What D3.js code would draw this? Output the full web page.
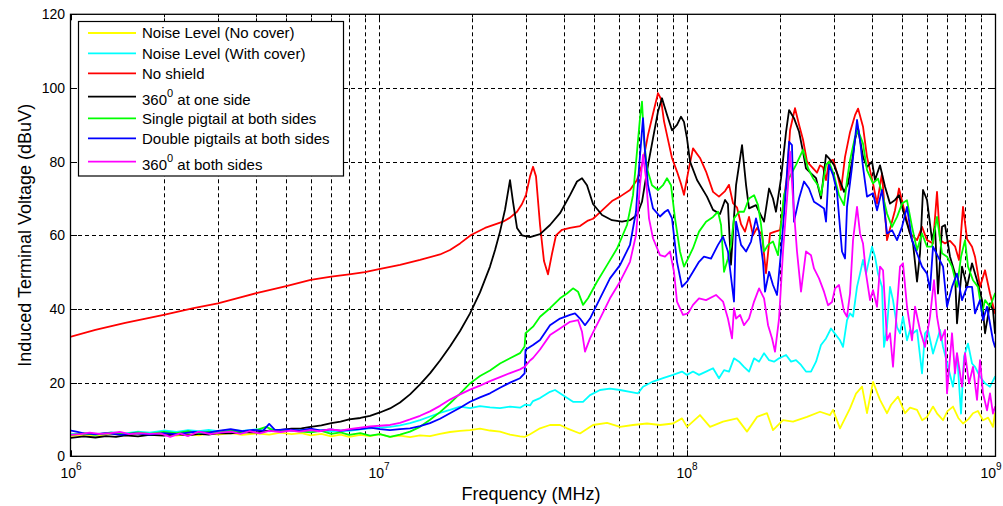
<!DOCTYPE html>
<html><head><meta charset="utf-8">
<script src="https://cdn.jsdelivr.net/npm/d3@7"></script>
<style>body{margin:0;background:#fff;} svg{display:block;font-family:"Liberation Sans",Arial,Helvetica,sans-serif;}</style>
</head><body><svg id="chart" width="1003" height="506"></svg>
<script>
// ---------------- DATA ----------------
const seriesNames = ["Noise Level (No cover)", "Noise Level (With cover)", "No shield", "360^0 at one side",
  "Single pigtail at both sides", "Double pigtails at both sides", "360^0 at both sides"];
const seriesColors = ["#ffff00", "#00ffff", "#ff0000", "#000000", "#00ff00", "#0000ff", "#ff00ff"];
const xTickExponents = [6, 7, 8, 9];
const yTickValues = [0, 20, 40, 60, 80, 100, 120];

// [frequency (Hz), induced voltage (dBuV)]
const noiseNoCover = [[1e6,5.5],[1.1e6,5.9],[1.2e6,5.6],[1.35e6,6.1],[1.5e6,5.7],[1.65e6,6.2],[1.8e6,5.8],[2e6,6.1],[2.2e6,5.6],[2.4e6,6.0],[2.6e6,5.7],[2.8e6,6.2],[3e6,5.9],[3.3e6,6.3],[3.6e6,5.8],[4e6,6.2],[4.4e6,5.9],[4.8e6,6.4],[5.2e6,6.0],[5.6e6,6.3],[6e6,5.7],[6.5e6,6.1],[7e6,5.4],[7.5e6,5.9],[8e6,5.3],[8.7e6,5.8],[9.35e6,5.5],[1.007e7,6.0],[1.086e7,5.3],[1.17e7,5.6],[1.261e7,5.2],[1.359e7,5.7],[1.464e7,5.5],[1.578e7,6.1],[1.7e7,6.6],[1.833e7,6.9],[1.975e7,7.1],[2.128e7,7.5],[2.293e7,7.0],[2.471e7,6.7],[2.663e7,5.9],[2.87e7,5.4],[2.979e7,5.3],[3.093e7,6.0],[3.333e7,7.6],[3.591e7,8.5],[3.87e7,8.5],[4.077e7,7.6],[4.494e7,6.2],[4.953e7,8.5],[5.5e7,9.1],[6.06e7,8.0],[6.679e7,8.5],[7.415e7,8.9],[8.172e7,8.5],[9.007e7,8.9],[9.633e7,10.3],[1.0e8,8.0],[1.102e8,11.2],[1.188e8,8.0],[1.309e8,9.4],[1.454e8,10.3],[1.566e8,6.7],[1.688e8,10.7],[1.819e8,11.7],[1.902e8,7.1],[2.05e8,9.8],[2.209e8,9.4],[2.453e8,10.7],[2.703e8,12.1],[2.913e8,11.2],[2.979e8,12.6],[3.139e8,7.6],[3.383e8,13],[3.538e8,17],[3.701e8,18.9],[3.841e8,11.7],[4.017e8,20.2],[4.233e8,15.3],[4.461e8,11.7],[4.6e8,14.0],[4.843e8,16.2],[5.103e8,11.7],[5.3e8,13.2],[5.583e8,12.6],[5.8e8,9.8],[6.015e8,10.7],[6.292e8,13.5],[6.5e8,11.5],[6.781e8,9.8],[7.0e8,12.2],[7.305e8,13.5],[7.6e8,10.4],[7.873e8,8.9],[8.2e8,10.1],[8.484e8,11.7],[8.8e8,12.3],[9.143e8,9.8],[9.5e8,10.5],[9.851e8,8.0],[1e9,11.7]];

const noiseWithCover = [[1e6,6.0],[1.1e6,6.3],[1.2e6,5.9],[1.35e6,6.5],[1.5e6,6.2],[1.65e6,6.7],[1.8e6,6.4],[2e6,7.0],[2.2e6,6.6],[2.4e6,7.1],[2.6e6,6.8],[2.8e6,7.2],[3e6,6.8],[3.3e6,7.1],[3.6e6,6.9],[4e6,7.3],[4.4e6,6.8],[4.8e6,7.2],[5.2e6,6.9],[5.6e6,7.2],[6e6,6.8],[6.5e6,7.1],[7e6,6.7],[7.5e6,7.0],[8e6,6.9],[8.7e6,7.3],[9.35e6,7.6],[1.007e7,7.8],[1.086e7,8.0],[1.17e7,8.4],[1.261e7,9.0],[1.359e7,9.8],[1.464e7,10.8],[1.578e7,11.8],[1.7e7,12.6],[1.833e7,13.5],[1.975e7,13.1],[2.128e7,13.6],[2.293e7,13.3],[2.471e7,13.1],[2.663e7,13.5],[2.87e7,13.2],[2.979e7,14.0],[3.093e7,13.8],[3.163e7,15.0],[3.333e7,15.8],[3.591e7,17.5],[3.728e7,18],[3.958e7,16.6],[4.265e7,14.8],[4.596e7,14.8],[4.843e7,16.6],[5.219e7,18],[5.623e7,18.4],[6.06e7,18],[6.53e7,17.5],[6.932e7,17.1],[7.197e7,18.9],[7.755e7,20.3],[8.358e7,21.2],[9.007e7,22.1],[9.633e7,23],[1.0e8,22.1],[1.046e8,23],[1.094e8,22.1],[1.153e8,23],[1.215e8,23.9],[1.27e8,21.2],[1.319e8,23.4],[1.369e8,23],[1.421e8,26.6],[1.476e8,25.7],[1.531e8,24.3],[1.59e8,23],[1.651e8,26.6],[1.714e8,25.7],[1.779e8,28],[1.847e8,26.1],[1.917e8,25.7],[1.99e8,26.6],[2.097e8,27.5],[2.177e8,25.7],[2.259e8,26.1],[2.345e8,24.8],[2.434e8,23],[2.527e8,23],[2.624e8,25.7],[2.723e8,30.2],[2.827e8,32],[2.935e8,34.7],[3.047e8,32.9],[3.139e8,31.5],[3.21e8,29.7],[3.308e8,37],[3.383e8,38.8],[3.46e8,37.9],[3.565e8,46],[3.646e8,49.6],[3.728e8,53.3],[3.813e8,49.6],[3.988e8,56.9],[4.078e8,54.2],[4.17e8,49.6],[4.297e8,46],[4.362e8,29.7],[4.461e8,35.1],[4.562e8,46],[4.665e8,42.4],[4.808e8,35.1],[4.916e8,33.4],[5.027e8,37.9],[5.18e8,31.5],[5.298e8,34.3],[5.418e8,33.4],[5.583e8,34.3],[5.795e8,22.5],[5.926e8,33.4],[6.06e8,34.3],[6.292e8,27.9],[6.482e8,31.5],[6.63e8,34.3],[6.781e8,29.7],[7.038e8,24.3],[7.305e8,18.9],[7.528e8,27.9],[7.757e8,11.6],[7.932e8,27],[8.173e8,30.6],[8.422e8,25.2],[8.612e8,24.3],[8.94e8,21.6],[9.281e8,19.8],[9.634e8,18.9],[1e9,21.6]];

const noShield = [[1e6,32.5],[1.2e6,34.3],[1.5e6,36.2],[2e6,38.4],[2.5e6,40.2],[3e6,41.5],[3.5e6,43.0],[4e6,44.3],[5e6,46.2],[6e6,47.9],[7e6,48.8],[8e6,49.4],[9e6,50.0],[1e7,50.8],[1.17e7,52.0],[1.359e7,53.3],[1.578e7,54.8],[1.7e7,56],[1.833e7,57.8],[1.99e7,60.1],[2.209e7,62.0],[2.527e7,63.7],[2.663e7,64.8],[2.806e7,66.4],[2.913e7,68.5],[3.001e7,71.0],[3.093e7,76.0],[3.163e7,78.6],[3.234e7,76],[3.333e7,62.8],[3.433e7,53],[3.537e7,49.4],[3.645e7,55],[3.756e7,60],[3.928e7,61.5],[4.17e7,62.0],[4.494e7,62.5],[4.771e7,64],[4.953e7,64.5],[5.103e7,65.5],[5.418e7,67.5],[5.708e7,69.3],[6.06e7,70.5],[6.53e7,72.3],[6.881e7,75],[7.197e7,80],[7.47e7,87.2],[7.755e7,93],[8.05e7,98.6],[8.233e7,97],[8.419e7,91],[8.611e7,87.2],[8.939e7,81],[9.28e7,77.3],[9.561e7,74],[9.777e7,71],[1.008e8,77],[1.046e8,83.6],[1.102e8,81],[1.153e8,77.3],[1.215e8,71.8],[1.27e8,70.5],[1.329e8,72],[1.369e8,73.7],[1.411e8,68.7],[1.454e8,67.5],[1.498e8,63],[1.543e8,61],[1.59e8,65],[1.638e8,60],[1.688e8,62],[1.753e8,60],[1.805e8,49.7],[1.861e8,60.5],[1.931e8,61],[2.005e8,61.4],[2.065e8,70],[2.112e8,76],[2.161e8,88.6],[2.242e8,94.5],[2.311e8,90],[2.38e8,86],[2.453e8,80],[2.546e8,78.5],[2.643e8,77],[2.703e8,79],[2.764e8,78.5],[2.827e8,75],[2.891e8,80],[2.979e8,80.5],[3.07e8,77],[3.163e8,72.3],[3.259e8,81.3],[3.383e8,88],[3.512e8,92.6],[3.592e8,94.4],[3.728e8,89.5],[3.841e8,81.3],[4.017e8,74.1],[4.14e8,68.6],[4.297e8,76.8],[4.461e8,58.7],[4.736e8,66.8],[4.879e8,72.7],[5.103e8,65.9],[5.298e8,60.5],[5.583e8,58.7],[5.795e8,62.3],[6.015e8,58.7],[6.292e8,57.8],[6.482e8,71.8],[6.63e8,58.7],[6.882e8,57.8],[7.144e8,58.5],[7.416e8,57],[7.641e8,53.3],[7.873e8,67.7],[8.113e8,59],[8.422e8,56.9],[8.612e8,54.2],[8.94e8,46],[9.281e8,50.5],[9.634e8,44.2],[1e9,38.8]];

const oneSide360 = [[1e6,5.0],[1.1e6,5.4],[1.2e6,5.1],[1.3e6,5.5],[1.4e6,5.3],[1.5e6,5.7],[1.65e6,5.4],[1.8e6,5.8],[2e6,5.6],[2.2e6,6.0],[2.4e6,5.7],[2.6e6,6.1],[2.8e6,5.9],[3e6,6.3],[3.3e6,6.2],[3.6e6,6.6],[4e6,6.5],[4.4e6,7.0],[4.8e6,7.2],[5.2e6,7.5],[5.6e6,7.6],[6e6,8.0],[6.5e6,8.4],[7e6,9.0],[7.5e6,9.4],[8e6,10.0],[8.7e6,10.4],[9.35e6,11.0],[1.007e7,11.9],[1.086e7,13.0],[1.17e7,14.6],[1.261e7,16.8],[1.359e7,19.5],[1.464e7,22.5],[1.578e7,26.0],[1.7e7,29.8],[1.833e7,34.0],[1.975e7,38.8],[2.128e7,44.5],[2.293e7,51.5],[2.381e7,56],[2.471e7,61.0],[2.566e7,67.0],[2.663e7,75.0],[2.724e7,69],[2.806e7,62.0],[2.913e7,60.0],[3.093e7,59.5],[3.333e7,60.3],[3.591e7,62.8],[3.87e7,66.0],[4.17e7,70.9],[4.394e7,74.6],[4.562e7,75.5],[4.735e7,73.6],[4.953e7,68.5],[5.298e7,65.5],[5.708e7,64.1],[6.152e7,63.7],[6.53e7,64.1],[6.881e7,65.5],[7.143e7,69.1],[7.47e7,79],[7.755e7,86.3],[8.05e7,93.6],[8.295e7,97.2],[8.611e7,92.7],[8.939e7,88.5],[9.28e7,90],[9.561e7,92.2],[9.777e7,90.8],[1.0e8,86.3],[1.023e8,80],[1.078e8,75],[1.161e8,70.5],[1.215e8,66.9],[1.28e8,65.8],[1.329e8,69.6],[1.358e8,68.5],[1.389e8,52],[1.443e8,73.6],[1.509e8,84.5],[1.555e8,73.6],[1.59e8,67.3],[1.675e8,68.2],[1.714e8,66.4],[1.779e8,63.7],[1.847e8,72.7],[1.902e8,70],[1.945e8,66.4],[2.02e8,75.5],[2.097e8,88.1],[2.145e8,94.0],[2.225e8,91.8],[2.311e8,88.1],[2.38e8,82.7],[2.434e8,78.2],[2.527e8,76.8],[2.624e8,75.5],[2.723e8,70],[2.827e8,81.8],[2.891e8,80.9],[3.001e8,79.1],[3.115e8,75.5],[3.235e8,71.8],[3.333e8,74],[3.434e8,80],[3.512e8,86],[3.592e8,89],[3.728e8,81.3],[3.841e8,78.6],[3.988e8,80],[4.078e8,75],[4.233e8,79],[4.395e8,73.2],[4.562e8,68.6],[4.736e8,69.6],[4.879e8,70.9],[5.027e8,66.8],[5.219e8,62.3],[5.418e8,57.8],[5.583e8,47.4],[5.709e8,55.1],[5.838e8,72.3],[6.015e8,69.6],[6.245e8,58.7],[6.386e8,62.3],[6.531e8,44.2],[6.73e8,62.3],[6.882e8,62.8],[7.144e8,54.2],[7.416e8,49.6],[7.527e8,36.1],[7.815e8,51.5],[8.113e8,46],[8.422e8,52.4],[8.742e8,47.8],[9.075e8,42.4],[9.281e8,33.4],[9.634e8,41.5],[9.851e8,39.7],[1e9,33.4]];

const singlePigtail = [[1e6,5.8],[1.1e6,6.2],[1.2e6,5.9],[1.35e6,6.4],[1.5e6,6.0],[1.65e6,6.5],[1.8e6,6.1],[2e6,6.6],[2.2e6,6.3],[2.4e6,6.8],[2.6e6,6.2],[2.8e6,6.7],[3e6,6.4],[3.3e6,7.0],[3.6e6,6.6],[4e6,7.1],[4.3e6,8.0],[4.6e6,6.9],[5e6,7.2],[5.5e6,6.8],[6e6,6.5],[6.5e6,6.9],[7e6,6.1],[7.5e6,6.5],[8e6,5.8],[8.7e6,6.3],[9.35e6,5.6],[1.007e7,6.0],[1.086e7,5.3],[1.17e7,5.9],[1.261e7,6.7],[1.359e7,8.0],[1.464e7,9.9],[1.578e7,12.0],[1.7e7,14.4],[1.833e7,17.0],[1.975e7,19.8],[2.128e7,21.8],[2.293e7,23.3],[2.471e7,25.2],[2.663e7,26.6],[2.87e7,28.0],[2.97e7,29.8],[2.99e7,33.4],[3.163e7,35.2],[3.333e7,37.9],[3.591e7,40.2],[3.87e7,42.9],[4.077e7,44.2],[4.265e7,45.6],[4.428e7,44.7],[4.596e7,41.1],[4.771e7,42.9],[5.103e7,47.4],[5.5e7,51.9],[5.926e7,56.4],[6.386e7,62.8],[6.679e7,70.9],[6.881e7,82.7],[7.037e7,91.8],[7.143e7,96.3],[7.252e7,86],[7.415e7,78.2],[7.697e7,73.6],[8.05e7,72.3],[8.358e7,73.6],[8.611e7,75.5],[8.872e7,73.6],[9.142e7,64.6],[9.49e7,55.6],[9.777e7,51.5],[1.008e8,53.7],[1.046e8,56.5],[1.094e8,61],[1.153e8,63.7],[1.215e8,65],[1.261e8,66.4],[1.29e8,62.8],[1.319e8,50.1],[1.358e8,53.7],[1.389e8,57.4],[1.421e8,64.6],[1.476e8,66.4],[1.531e8,66.4],[1.59e8,70],[1.651e8,70.9],[1.701e8,68.2],[1.74e8,62.8],[1.779e8,55.6],[1.833e8,57.4],[1.902e8,58.3],[1.975e8,54.6],[2.02e8,62.8],[2.065e8,70.9],[2.145e8,75.5],[2.259e8,79.1],[2.38e8,83.2],[2.471e8,78.2],[2.565e8,75.5],[2.663e8,73.6],[2.723e8,70.9],[2.827e8,79.1],[2.891e8,80],[3.001e8,76.4],[3.115e8,70.9],[3.235e8,68.2],[3.308e8,75],[3.383e8,80.4],[3.512e8,86.7],[3.592e8,88.5],[3.728e8,84.9],[3.841e8,77.7],[4.017e8,74.1],[4.17e8,75.4],[4.33e8,70.5],[4.461e8,65.9],[4.631e8,62.3],[4.808e8,65],[4.99e8,68.6],[5.18e8,69.5],[5.378e8,62.3],[5.583e8,56],[5.795e8,60.5],[6.015e8,56.9],[6.245e8,56.9],[6.482e8,65],[6.73e8,55.1],[6.986e8,54.2],[7.252e8,51.5],[7.528e8,46],[7.757e8,54.2],[7.992e8,58.7],[8.173e8,51.5],[8.484e8,47.8],[8.807e8,46],[9.075e8,38.8],[9.281e8,42.4],[9.634e8,40.6],[1e9,44.2]];

const doublePigtails = [[1e6,7.0],[1.05e6,6.6],[1.1e6,6.2],[1.2e6,6.0],[1.3e6,6.3],[1.45e6,5.8],[1.6e6,6.2],[1.8e6,5.9],[2e6,6.3],[2.2e6,6.0],[2.5e6,6.6],[2.8e6,6.4],[3e6,6.9],[3.3e6,7.4],[3.6e6,6.8],[3.9e6,7.2],[4.2e6,6.9],[4.4e6,8.8],[4.6e6,7.1],[5e6,7.3],[5.5e6,7.0],[6e6,7.5],[6.5e6,7.0],[7e6,7.3],[7.5e6,6.9],[8e6,7.2],[8.7e6,7.4],[9.35e6,7.8],[1.007e7,7.4],[1.086e7,7.1],[1.17e7,7.4],[1.261e7,7.6],[1.359e7,8.2],[1.464e7,9.0],[1.578e7,10.2],[1.7e7,11.7],[1.833e7,13.2],[1.975e7,14.8],[2.128e7,16.0],[2.293e7,17.1],[2.471e7,18.6],[2.663e7,20.0],[2.87e7,21.2],[2.97e7,22.5],[2.99e7,28.9],[3.163e7,30.2],[3.333e7,31.6],[3.591e7,35.6],[3.87e7,37.4],[4.17e7,38.4],[4.329e7,38.8],[4.494e7,37.4],[4.665e7,35.6],[4.843e7,37.4],[5.219e7,42.9],[5.623e7,48.3],[6.06e7,51.9],[6.53e7,57.4],[6.83e7,66.4],[6.984e7,78.2],[7.197e7,91.8],[7.305e7,82.7],[7.47e7,73.6],[7.755e7,67.3],[8.172e7,65.1],[8.483e7,66.4],[8.676e7,66.9],[8.939e7,64.6],[9.28e7,52.8],[9.633e7,46],[1.0e8,47.4],[1.046e8,50.1],[1.094e8,52.8],[1.135e8,54.2],[1.197e8,53.7],[1.261e8,57.4],[1.309e8,59.6],[1.358e8,55.6],[1.4e8,46.5],[1.421e8,42],[1.443e8,63.7],[1.498e8,57.4],[1.555e8,55.6],[1.614e8,58.3],[1.675e8,64.6],[1.714e8,61],[1.765e8,52.8],[1.792e8,44.7],[1.847e8,50.1],[1.902e8,46.5],[1.96e8,43.8],[2.02e8,55.6],[2.081e8,69.1],[2.145e8,85.4],[2.192e8,84.5],[2.225e8,63.7],[2.311e8,70],[2.398e8,74.6],[2.489e8,72.7],[2.584e8,69.1],[2.683e8,68.2],[2.785e8,67.3],[2.827e8,63.7],[2.891e8,79.1],[2.979e8,76.4],[3.069e8,71.8],[3.186e8,55.6],[3.259e8,53.7],[3.308e8,67.7],[3.434e8,78.6],[3.565e8,91.3],[3.646e8,85.8],[3.728e8,78.6],[3.841e8,70.5],[4.017e8,71.4],[4.14e8,66.8],[4.297e8,72.3],[4.461e8,60.5],[4.631e8,61.4],[4.808e8,58.7],[4.99e8,62.3],[5.18e8,67.7],[5.378e8,58.7],[5.583e8,55.1],[5.795e8,51.5],[6.015e8,49.6],[6.152e8,45.1],[6.292e8,56.9],[6.531e8,54.2],[6.781e8,51.5],[6.986e8,40.6],[7.252e8,46],[7.528e8,49.6],[7.815e8,42.4],[8.113e8,46],[8.422e8,46],[8.612e8,38.8],[8.94e8,42.4],[9.143e8,37],[9.42e8,40.6],[9.851e8,31.5],[1e9,29.7]];

const bothSides360 = [[1e6,5.8],[1.07e6,6.0],[1.15e6,6.4],[1.24e6,6.1],[1.34e6,6.3],[1.44e6,6.6],[1.55e6,6.0],[1.67e6,6.3],[1.8e6,6.1],[1.95e6,6.2],[2.1e6,5.3],[2.26e6,6.2],[2.4e6,5.5],[2.6e6,6.7],[2.83e6,6.0],[3.05e6,6.4],[3.3e6,6.7],[3.55e6,6.1],[3.8e6,6.8],[4.1e6,6.2],[4.4e6,6.9],[4.8e6,6.6],[5.15e6,7.0],[5.5e6,6.7],[6e6,7.1],[6.4e6,6.8],[6.9e6,7.3],[7.5e6,7.0],[8e6,7.4],[8.7e6,7.8],[9.35e6,8.1],[1.007e7,8.3],[1.086e7,8.5],[1.17e7,9.1],[1.261e7,10.0],[1.359e7,11.0],[1.464e7,12.2],[1.578e7,13.7],[1.7e7,15.4],[1.833e7,16.8],[1.975e7,18.1],[2.128e7,19.2],[2.293e7,20.4],[2.471e7,21.5],[2.663e7,22.6],[2.87e7,23.6],[2.979e7,24.4],[3.093e7,26.0],[3.163e7,26.7],[3.333e7,29.0],[3.591e7,32.9],[3.87e7,34.7],[4.17e7,36.5],[4.428e7,37],[4.562e7,33.8],[4.665e7,28.4],[4.843e7,32],[5.219e7,37.4],[5.623e7,42.9],[6.06e7,47.4],[6.53e7,52.8],[6.83e7,60.1],[7.037e7,73.6],[7.197e7,81.8],[7.36e7,75.5],[7.526e7,64.6],[7.755e7,59.2],[8.172e7,54.6],[8.483e7,54.2],[8.806e7,55.6],[9.073e7,50.1],[9.279e7,42],[9.704e7,38.4],[1.008e8,38.8],[1.046e8,41.1],[1.094e8,42.9],[1.153e8,42.4],[1.242e8,43.8],[1.309e8,42],[1.358e8,37.4],[1.4e8,32],[1.421e8,40.2],[1.443e8,37.4],[1.487e8,38.4],[1.531e8,35.6],[1.59e8,37.4],[1.651e8,42],[1.714e8,45.6],[1.779e8,42.9],[1.833e8,35.6],[1.889e8,32],[1.931e8,28.4],[1.99e8,37.4],[2.05e8,55.6],[2.129e8,73.6],[2.161e8,82.7],[2.209e8,70],[2.276e8,55.6],[2.345e8,44.7],[2.434e8,55.6],[2.527e8,54.6],[2.584e8,51],[2.683e8,48.3],[2.785e8,44.7],[2.87e8,41],[2.957e8,41.9],[3.024e8,45.6],[3.115e8,46.5],[3.235e8,39.3],[3.308e8,37.9],[3.383e8,44.2],[3.46e8,58.7],[3.565e8,67.7],[3.646e8,60.5],[3.728e8,57.8],[3.813e8,49.6],[3.929e8,42.4],[4.017e8,45.1],[4.14e8,40.6],[4.233e8,51.5],[4.33e8,50.5],[4.461e8,31.5],[4.562e8,33.4],[4.665e8,24.3],[4.808e8,40.6],[4.916e8,51.5],[5.027e8,52.4],[5.18e8,40.6],[5.378e8,31.5],[5.5e8,40.6],[5.709e8,34.3],[5.926e8,29.7],[6.152e8,37.9],[6.338e8,47.8],[6.482e8,37.9],[6.68e8,31.5],[6.882e8,34.3],[6.986e8,17.1],[7.252e8,33.4],[7.416e8,22.5],[7.527e8,28],[7.815e8,18.9],[7.992e8,28],[8.235e8,19.8],[8.484e8,24.3],[8.742e8,15.3],[8.94e8,26.1],[9.143e8,17.1],[9.421e8,12.5],[9.634e8,17.1],[9.851e8,11.6],[1e9,13.4]];

const allSeries = [noiseNoCover, noiseWithCover, noShield, oneSide360, singlePigtail, doublePigtails, bothSides360];

// ---------------- LAYOUT ----------------
const W = 1003, H = 506;
const X0 = 71, X1 = 995, Y0 = 456.3, Y1 = 14.3;
const svg = d3.select("#chart");
svg.append("rect").attr("width", W).attr("height", H).attr("fill", "#fff");

const x = d3.scaleLog().domain([1e6, 1e9]).range([X0, X1]);
const y = d3.scaleLinear().domain([0, 120]).range([Y0, Y1]);

svg.append("clipPath").attr("id", "plotclip").append("rect")
  .attr("x", X0).attr("y", Y1).attr("width", X1 - X0).attr("height", Y0 - Y1);

// grid
const allXTicks = x.ticks();
const grid = svg.append("g").attr("stroke", "#000").attr("stroke-width", 1).attr("stroke-dasharray", "4,3");
allXTicks.filter(t => x(t) > X0 + 1 && x(t) < X1 - 1).forEach(t => {
  const px = Math.round(x(t)) + 0.5;
  grid.append("line").attr("x1", px).attr("x2", px).attr("y1", Y0).attr("y2", Y1);
});
yTickValues.filter(v => v > 0 && v < 120).forEach(v => {
  const py = Math.round(y(v)) + 0.5;
  grid.append("line").attr("x1", X0).attr("x2", X1).attr("y1", py).attr("y2", py);
});

// series
const line = d3.line().x(d => x(d[0])).y(d => y(d[1]));
const plot = svg.append("g").attr("clip-path", "url(#plotclip)");
allSeries.forEach((s, i) => {
  plot.append("path").datum(s).attr("d", line).attr("fill", "none")
    .attr("stroke", seriesColors[i]).attr("stroke-width", 1.8)
    .attr("stroke-linejoin", "round").attr("stroke-linecap", "round");
});

// box and ticks
const axisG = svg.append("g").attr("stroke", "#000").attr("stroke-width", 1);
axisG.append("rect").attr("x", X0 - 0.5).attr("y", Y1).attr("width", X1 - X0 + 1).attr("height", Y0 - Y1).attr("fill", "none").attr("stroke-width", 1.3);
allXTicks.forEach(t => {
  const major = xTickExponents.some(e => Math.abs(t - Math.pow(10, e)) < 1);
  const len = major ? 6 : 3;
  const px = Math.round(x(t)) + 0.5;
  axisG.append("line").attr("x1", px).attr("x2", px).attr("y1", Y0).attr("y2", Y0 - len);
  axisG.append("line").attr("x1", px).attr("x2", px).attr("y1", Y1).attr("y2", Y1 + len);
});
yTickValues.forEach(v => {
  const py = Math.round(y(v)) + 0.5;
  axisG.append("line").attr("x1", X0).attr("x2", X0 + 6).attr("y1", py).attr("y2", py);
  axisG.append("line").attr("x1", X1).attr("x2", X1 - 6).attr("y1", py).attr("y2", py);
});

// tick labels
const tickFont = 14;
yTickValues.forEach(v => {
  svg.append("text").attr("x", X0 - 6).attr("y", y(v) + 5).attr("text-anchor", "end")
    .attr("font-size", tickFont).attr("fill", "#000").text(v);
});
xTickExponents.forEach(e => {
  const t = svg.append("text").attr("x", x(Math.pow(10, e))).attr("y", 478)
    .attr("text-anchor", "middle").attr("font-size", tickFont).attr("fill", "#000");
  t.append("tspan").text("10");
  t.append("tspan").attr("dy", -8).attr("font-size", 10).text(e);
  // keep the label inside the picture
  const bb = t.node().getBBox();
  if (bb.x + bb.width > W - 1) t.attr("x", +t.attr("x") - (bb.x + bb.width - (W - 1)));
});

// axis titles
svg.append("text").attr("x", (X0 + X1) / 2 - 2).attr("y", 500).attr("text-anchor", "middle")
  .attr("font-size", 18).attr("fill", "#000").text("Frequency (MHz)");
svg.append("text").attr("transform", `translate(31,${(Y0 + Y1) / 2}) rotate(-90)`)
  .attr("text-anchor", "middle").attr("font-size", 18).attr("fill", "#000")
  .text("Induced Terminal Voltage (dBuV)");

// legend
const legRows = [33, 53.3, 73.3, 96.7, 118.3, 138.3, 161.7];
const leg = svg.append("g");
leg.append("rect").attr("x", 78.5).attr("y", 21.5).attr("width", 265).attr("height", 154.5)
  .attr("fill", "#fff").attr("stroke", "#000").attr("stroke-width", 1.2);
seriesNames.forEach((name, i) => {
  const ly = legRows[i];
  leg.append("line").attr("x1", 88).attr("x2", 136).attr("y1", ly).attr("y2", ly)
    .attr("stroke", seriesColors[i]).attr("stroke-width", 1.8);
  const hasSup = name.includes("^");
  const t = leg.append("text").attr("x", 142).attr("y", ly + 5.3 + (hasSup ? 2.5 : 0))
    .attr("font-size", 15).attr("fill", "#000");
  if (hasSup) {
    const parts = name.split(/\^(\d)/);
    t.append("tspan").text(parts[0]);
    t.append("tspan").attr("dy", -8).attr("font-size", 11).text(parts[1]);
    t.append("tspan").attr("dy", 8).text(parts[2]);
  } else {
    t.text(name);
  }
});
</script>
</body></html>
